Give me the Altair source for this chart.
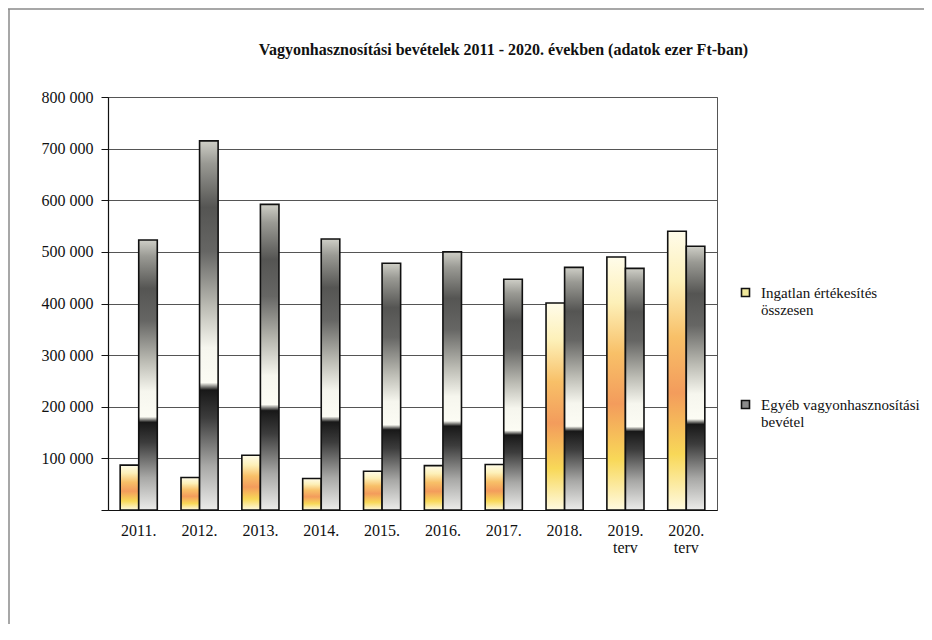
import altair as alt
import pandas as pd

categories = ["2011.", "2012.", "2013.", "2014.", "2015.", "2016.", "2017.", "2018.", "2019. terv", "2020. terv"]
ingatlan = [87000, 63000, 106000, 61000, 75000, 86000, 88000, 401000, 490000, 540000]
egyeb = [523000, 715000, 592000, 525000, 478000, 500000, 447000, 470000, 468000, 511000]
series = ["Ingatlan értékesítés összesen", "Egyéb vagyonhasznosítási bevétel"]
y_ticks = [0, 100000, 200000, 300000, 400000, 500000, 600000, 700000, 800000]
title_text = "Vagyonhasznosítási bevételek 2011 - 2020. években (adatok ezer Ft-ban)"

rows = []
for c, a, b in zip(categories, ingatlan, egyeb):
    rows.append({"ev": c, "sorozat": series[0], "ertek": a})
    rows.append({"ev": c, "sorozat": series[1], "ertek": b})
df = pd.DataFrame(rows)

FONT = "Liberation Serif"


def grad(stops):
    return alt.LinearGradient(
        gradient="linear", x1=0, x2=0, y1=0, y2=1,
        stops=[alt.GradientStop(offset=o, color=c) for o, c in stops],
    )


yellow_grad = grad([
    (0.0, "#fffcea"), (0.18, "#fdf0b8"), (0.38, "#f8c068"), (0.58, "#f39c5c"),
    (0.8, "#f8d858"), (1.0, "#fffae0"),
])
gray_grad = grad([
    (0.0, "#cfcfc7"), (0.06, "#9a9a94"), (0.18, "#555553"), (0.3, "#666664"),
    (0.45, "#bcbcb4"), (0.56, "#f6f6ee"), (0.655, "#fcfcf4"), (0.675, "#181818"),
    (0.75, "#3c3c3c"), (0.88, "#a8a8a6"), (1.0, "#ececea"),
])

x_enc = alt.X(
    "ev:N", sort=categories, title=None,
    scale=alt.Scale(paddingInner=0.39, paddingOuter=0.2),
    axis=alt.Axis(labelAngle=0, ticks=False, labelPadding=12,
                  labelExpr="split(datum.label, ' ')", labelLineHeight=17,
                  domainColor="#111", domainWidth=1.2, grid=False),
)
y_enc = alt.Y(
    "ertek:Q", title=None,
    scale=alt.Scale(domain=[0, 800000], nice=False),
    axis=alt.Axis(values=y_ticks, tickSize=7, labelPadding=8,
                  labelExpr="datum.value == 0 ? '' : replace(format(datum.value, ','), regexp(',', 'g'), ' ')",
                  domainColor="#111", domainWidth=1.2, tickColor="#111",
                  gridColor="#555", gridWidth=1),
)
xoff = alt.XOffset("sorozat:N", sort=series,
                   scale=alt.Scale(domain=series, paddingInner=0, paddingOuter=0))

base = alt.Chart(df)

bar_a = base.transform_filter(alt.datum.sorozat == series[0]).mark_bar(
    fill=yellow_grad, stroke="#111", strokeWidth=1.6
).encode(x=x_enc, xOffset=xoff, y=y_enc)

bar_b = base.transform_filter(alt.datum.sorozat == series[1]).mark_bar(
    fill=gray_grad, stroke="#111", strokeWidth=1.6
).encode(x=x_enc, xOffset=xoff, y=y_enc)

legend_layer = base.mark_point(shape="square", filled=True, opacity=0).encode(
    x=x_enc, xOffset=xoff, y=y_enc,
    fill=alt.Fill(
        "sorozat:N", sort=series,
        scale=alt.Scale(domain=series, range=["#efe79a", "#8a8a8a"]),
        legend=alt.Legend(
            title=None, orient="none", legendX=630, legendY=188, padding=0,
            symbolType="square", symbolSize=64, symbolStrokeColor="#111",
            symbolStrokeWidth=1.6, symbolOpacity=1,
            labelFont=FONT, labelFontSize=15, labelColor="#111", labelLimit=300,
            labelBaseline="middle", labelOffset=8, rowPadding=79,
            labelExpr="[slice(datum.label, 0, lastindexof(datum.label, ' ')), slice(datum.label, lastindexof(datum.label, ' ') + 1)]",
        ),
    ),
)

frame_data = pd.DataFrame({"k": [0]})
frame_top = alt.Chart(frame_data).mark_rule(color="#8a8a8a", strokeWidth=1.5).encode(
    x=alt.value(-100), x2=alt.value(830), y=alt.value(-88)
)
frame_left = alt.Chart(frame_data).mark_rule(color="#8a8a8a", strokeWidth=1.5).encode(
    x=alt.value(-99), y=alt.value(-88), y2=alt.value(530)
)

chart = alt.layer(bar_a, bar_b, legend_layer, frame_top, frame_left).properties(
    width=609, height=413,
    padding={"left": 100, "top": 89, "right": 207, "bottom": 114},
    autosize=alt.AutoSizeParams(type="none"),
    background="white",
    title=alt.TitleParams(title_text, font=FONT, fontSize=16, fontWeight="bold",
                          color="#111", anchor="middle", dx=91, dy=50, offset=0),
).configure_axis(
    labelFont=FONT, labelFontSize=16, labelColor="#111",
).configure_legend(
    labelFont=FONT, labelFontSize=15, labelColor="#111",
).configure_view(stroke="#555", strokeWidth=1)

chart.save("out.html", embed_options={"renderer": "svg", "actions": False})
